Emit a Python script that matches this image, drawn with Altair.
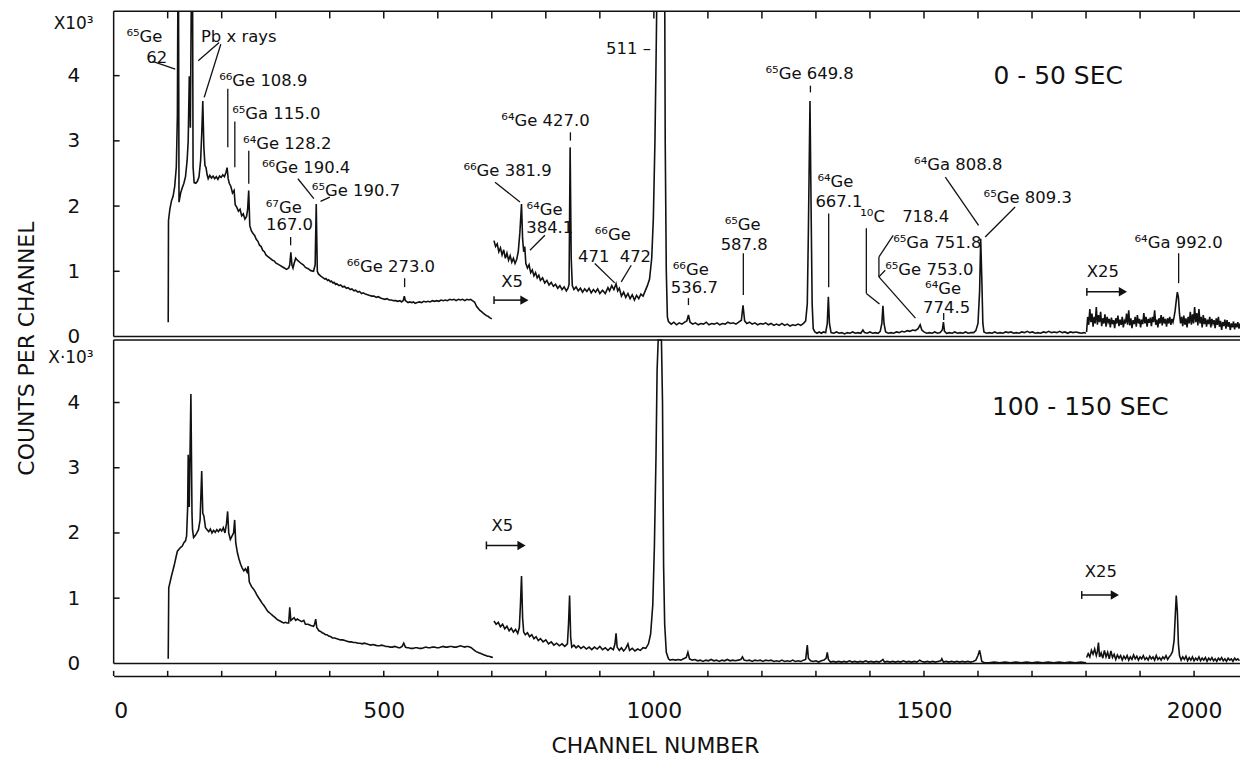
import altair as alt
import pandas as pd

# ---------------- data (counts per channel, units of 10^3 as drawn) ----------------
TOP_X1 = [(101,0.22),(101.5,1.78),(104,1.95),(107,2.08),(110,2.15),(113,2.30),(116,2.60),(118,3.40),(119,5.5),(120,5.5),
(121,2.06),(124,2.20),(127,2.28),(130,2.35),(133,2.45),(136,2.70),(138,3.00),(140,3.99),(141,3.90),(142,3.20),(144,5.5),
(146,5.5),(147,2.60),(149,2.36),(152,2.35),(155,2.38),(158,2.45),(161,2.70),(163,3.10),(165,3.61),(167,2.90),(169,2.62),
(171,2.59),(173,2.48),(175,2.42),(178,2.47),(181,2.43),(184,2.46),(187,2.42),(190,2.45),(193,2.41),(196,2.46),(199,2.44),
(202,2.48),(205,2.45),(208,2.52),(210,2.59),(212,2.42),(214,2.35),(217,2.30),(220,2.20),(223,2.24),(225,2.02),(228,1.98),
(231,1.92),(234,1.95),(237,1.85),(240,1.88),(243,1.80),(246,1.84),(248,1.95),(250,2.24),(252,1.70),(255,1.62),(258,1.58),
(261,1.55),(264,1.49),(267,1.46),(270,1.40),(273,1.38),(276,1.32),(279,1.30),(282,1.25),(285,1.23),(288,1.21),(291,1.19),
(294,1.17),(297,1.16),(300,1.13),(304,1.11),(308,1.09),(312,1.07),(316,1.05),(320,1.03),(324,1.05),(326,1.10),(328,1.29),
(330,1.10),(332,1.05),(334,1.12),(337,1.20),(340,1.17),(343,1.15),(347,1.12),(351,1.10),(355,1.06),(360,1.04),(365,1.01),
(370,1.00),(373,1.10),(375,2.03),(377,1.00),(379,0.96),(383,0.93),(386,0.91),(388,0.90),(391,0.88),(393,0.89),(396,0.86),
(398,0.87),(401,0.84),(403,0.85),(406,0.82),(408,0.83),(411,0.80),(413,0.81),(417,0.78),(420,0.79),(424,0.76),(427,0.77),
(431,0.74),(434,0.75),(438,0.72),(441,0.73),(445,0.70),(448,0.71),(452,0.68),(455,0.69),(459,0.66),(462,0.67),(466,0.65),
(470,0.64),(474,0.63),(478,0.62),(482,0.62),(486,0.60),(490,0.61),(494,0.59),(498,0.58),(502,0.57),(506,0.58),(510,0.56),
(514,0.56),(518,0.55),(522,0.55),(526,0.54),(530,0.55),(533,0.53),(536,0.55),(538,0.62),(540,0.55),(542,0.54),(545,0.52),
(548,0.53),(552,0.52),(555,0.53),(558,0.51),(562,0.52),(566,0.53),(570,0.52),(574,0.54),(578,0.53),(582,0.54),(586,0.53),
(590,0.55),(594,0.54),(598,0.55),(602,0.54),(606,0.56),(610,0.55),(614,0.56),(618,0.55),(622,0.57),(626,0.56),(630,0.57),
(634,0.55),(638,0.57),(642,0.56),(646,0.57),(650,0.55),(654,0.57),(658,0.56),(661,0.57),(664,0.55),(668,0.53),(672,0.46),
(675,0.43),(678,0.40),(681,0.38),(684,0.36),(687,0.34),(690,0.32),(693,0.31),(696,0.29),(700,0.27)]

TOP_X5 = [(704,1.47),(707,1.38),(710,1.42),(713,1.30),(716,1.36),(719,1.25),(722,1.33),(725,1.20),(728,1.28),(731,1.17),
(734,1.24),(737,1.14),(740,1.20),(743,1.12),(746,1.18),(749,1.30),(752,1.60),(755,2.03),(757,1.50),(759,1.30),(761,1.38),
(763,1.12),(766,1.05),(769,1.10),(772,0.98),(775,1.02),(778,0.93),(781,0.98),(784,0.90),(787,0.94),(790,0.86),(794,0.90),
(798,0.82),(802,0.86),(806,0.79),(810,0.83),(814,0.77),(818,0.80),(822,0.74),(826,0.78),(830,0.72),(834,0.76),(838,0.70),
(841,0.74),(843,0.80),(845,2.90),(847,1.20),(849,0.78),(852,0.72),(856,0.76),(860,0.70),(864,0.74),(868,0.68),(872,0.73),
(876,0.69),(880,0.74),(884,0.67),(888,0.72),(892,0.68),(896,0.73),(900,0.66),(905,0.71),(910,0.66),(915,0.75),(918,0.70),
(922,0.78),(926,0.72),(930,0.81),(933,0.70),(936,0.74),(940,0.62),(944,0.68),(948,0.60),(952,0.66),(956,0.58),(960,0.64),
(964,0.56),(968,0.63),(972,0.58),(976,0.65),(980,0.62),(984,0.70),(988,0.78),(992,0.88),(996,1.20),(999,1.80),(1002,3.00),
(1004,4.20),(1006,5.5),(1013,6.0),(1020,5.5),(1021,3.00),(1023,1.00),(1025,0.30),(1027,0.23),(1032,0.19),(1037,0.22),
(1042,0.18),(1047,0.21),(1052,0.19),(1057,0.22),(1061,0.24),(1064,0.33),(1067,0.22),(1072,0.19),(1077,0.21),(1082,0.18),
(1087,0.20),(1092,0.19),(1097,0.22),(1102,0.18),(1107,0.20),(1112,0.19),(1117,0.21),(1122,0.18),(1127,0.20),(1132,0.19),
(1137,0.22),(1142,0.20),(1147,0.21),(1152,0.19),(1157,0.22),(1162,0.25),(1165,0.48),(1168,0.24),(1172,0.20),(1177,0.22),
(1182,0.19),(1187,0.21),(1192,0.18),(1197,0.20),(1202,0.19),(1207,0.21),(1212,0.18),(1217,0.20),(1222,0.17),(1227,0.19),
(1232,0.17),(1237,0.20),(1242,0.17),(1247,0.19),(1252,0.16),(1257,0.18),(1262,0.17),(1267,0.19),(1272,0.17),(1277,0.20),
(1281,0.24),(1284,0.50),(1286,1.60),(1289,3.61),(1291,2.00),(1293,0.50),(1295,0.12),(1298,0.07),(1302,0.05),(1306,0.07),
(1310,0.05),(1314,0.07),(1318,0.06),(1321,0.20),(1323,0.61),(1325,0.20),(1328,0.06),(1333,0.05),(1338,0.07),(1343,0.05),
(1348,0.06),(1353,0.04),(1358,0.06),(1363,0.05),(1368,0.07),(1373,0.05),(1378,0.06),(1383,0.05),(1387,0.10),(1390,0.06),
(1395,0.05),(1400,0.07),(1405,0.05),(1410,0.06),(1415,0.05),(1419,0.08),(1422,0.20),(1424,0.47),(1426,0.20),(1429,0.07),
(1434,0.05),(1439,0.06),(1444,0.05),(1449,0.07),(1454,0.06),(1459,0.08),(1464,0.07),(1469,0.09),(1474,0.08),(1479,0.10),
(1484,0.09),(1489,0.12),(1493,0.18),(1496,0.10),(1500,0.07),(1505,0.05),(1510,0.06),(1515,0.05),(1520,0.07),(1525,0.05),
(1530,0.06),(1534,0.10),(1536,0.22),(1538,0.08),(1542,0.05),(1547,0.06),(1552,0.05),(1557,0.07),(1562,0.05),(1567,0.06),
(1572,0.05),(1577,0.07),(1582,0.05),(1587,0.06),(1592,0.06),(1596,0.09),(1600,0.20),(1603,0.70),(1605,1.50),(1607,0.90),
(1609,0.20),(1611,0.07),(1616,0.05),(1621,0.06),(1626,0.05),(1631,0.07),(1636,0.05),(1641,0.06),(1646,0.05),(1651,0.07),
(1656,0.06),(1661,0.07),(1666,0.05),(1671,0.06),(1676,0.05),(1681,0.07),(1686,0.06),(1691,0.08),(1696,0.06),(1701,0.07),
(1706,0.05),(1711,0.06),(1716,0.05),(1721,0.07),(1726,0.06),(1731,0.08),(1736,0.06),(1741,0.07),(1746,0.06),(1751,0.08),
(1756,0.06),(1761,0.07),(1766,0.05),(1771,0.07),(1776,0.06),(1781,0.07),(1786,0.06),(1791,0.05),(1796,0.06),(1800,0.05)]

TOP_X25 = [(1801,0.07),(1803,0.30),(1805,0.18),(1807,0.42),(1809,0.22),(1811,0.35),(1813,0.15),(1815,0.30),(1817,0.20),
(1819,0.45),(1821,0.18),(1823,0.33),(1825,0.22),(1827,0.38),(1829,0.16),(1831,0.28),(1833,0.20),(1835,0.34),(1837,0.15),
(1839,0.30),(1841,0.22),(1843,0.27),(1845,0.14),(1847,0.29),(1849,0.19),(1851,0.25),(1853,0.13),(1855,0.28),(1857,0.20),
(1859,0.32),(1861,0.16),(1863,0.26),(1865,0.18),(1867,0.30),(1869,0.14),(1871,0.24),(1873,0.20),(1875,0.35),(1877,0.18),
(1879,0.40),(1881,0.17),(1883,0.28),(1885,0.13),(1887,0.25),(1889,0.19),(1891,0.30),(1893,0.15),(1895,0.33),(1897,0.20),
(1899,0.27),(1901,0.14),(1903,0.26),(1905,0.19),(1907,0.36),(1909,0.20),(1911,0.30),(1913,0.15),(1915,0.27),(1917,0.21),
(1919,0.29),(1921,0.16),(1923,0.30),(1925,0.22),(1927,0.40),(1929,0.18),(1931,0.26),(1933,0.14),(1935,0.28),(1937,0.20),
(1939,0.33),(1941,0.17),(1943,0.30),(1945,0.20),(1947,0.27),(1949,0.15),(1951,0.28),(1953,0.20),(1955,0.30),(1957,0.18),
(1959,0.27),(1961,0.22),(1963,0.30),(1965,0.40),(1967,0.55),(1969,0.68),(1971,0.60),(1973,0.35),(1975,0.20),(1977,0.30),
(1979,0.16),(1981,0.32),(1983,0.18),(1985,0.28),(1987,0.14),(1989,0.30),(1991,0.20),(1993,0.38),(1995,0.18),(1997,0.34),
(1999,0.20),(2001,0.45),(2003,0.22),(2005,0.36),(2007,0.17),(2009,0.42),(2011,0.20),(2013,0.30),(2015,0.14),(2017,0.33),
(2019,0.19),(2021,0.28),(2023,0.15),(2025,0.26),(2027,0.19),(2029,0.30),(2031,0.14),(2033,0.27),(2035,0.20),(2037,0.25),
(2039,0.13),(2041,0.28),(2043,0.18),(2045,0.30),(2047,0.15),(2049,0.24),(2051,0.10),(2053,0.22),(2055,0.16),(2057,0.26),
(2059,0.12),(2061,0.25),(2063,0.15),(2065,0.22),(2067,0.10),(2069,0.20),(2071,0.14),(2073,0.23),(2075,0.11),(2077,0.20),
(2079,0.14),(2081,0.22),(2083,0.12),(2085,0.20)]

BOT_X1 = [(101,0.07),(102,1.16),(107,1.34),(112,1.50),(116,1.65),(118,1.72),(121,1.75),(124,1.78),(127,1.80),(130,1.85),
(133,1.88),(135,1.95),(137,2.40),(138,3.20),(139,2.90),(140,2.40),(141,3.00),(143,4.13),(145,2.30),(146,2.05),(148,1.93),
(151,1.96),(154,2.00),(157,2.05),(160,2.20),(163,2.95),(165,2.30),(167,2.26),(170,2.08),(173,2.05),(176,2.02),(179,2.06),
(182,2.00),(185,2.04),(188,2.01),(191,2.05),(194,2.02),(197,2.06),(200,2.03),(203,2.08),(206,2.00),(209,2.15),(211,2.33),
(213,2.00),(216,1.90),(219,1.95),(222,2.00),(224,2.20),(226,1.85),(229,1.70),(232,1.60),(235,1.52),(238,1.46),(241,1.42),
(244,1.45),(247,1.40),(249,1.49),(251,1.25),(255,1.18),(258,1.15),(262,1.10),(265,1.05),(268,1.01),(272,0.96),(275,0.92),
(278,0.89),(282,0.84),(285,0.80),(288,0.78),(292,0.75),(295,0.73),(298,0.71),(302,0.68),(305,0.66),(308,0.65),(312,0.63),
(315,0.62),(318,0.63),(321,0.62),(324,0.62),(326,0.86),(328,0.66),(331,0.68),(334,0.70),(337,0.66),(340,0.68),(344,0.66),
(348,0.64),(352,0.66),(355,0.60),(360,0.60),(365,0.58),(370,0.57),(372,0.60),(374,0.68),(376,0.55),(380,0.50),(383,0.49),
(386,0.47),(389,0.46),(392,0.44),(395,0.44),(398,0.42),(402,0.41),(405,0.39),(409,0.39),(412,0.38),(416,0.37),(420,0.36),
(424,0.36),(428,0.35),(432,0.34),(436,0.33),(440,0.33),(444,0.32),(448,0.32),(452,0.31),(456,0.31),(460,0.30),(464,0.31),
(468,0.30),(472,0.29),(476,0.28),(480,0.29),(484,0.28),(488,0.27),(492,0.27),(496,0.28),(500,0.27),(504,0.26),(508,0.26),
(512,0.25),(516,0.25),(520,0.26),(524,0.25),(527,0.24),(530,0.24),(534,0.26),(537,0.31),(540,0.25),(543,0.24),(546,0.24),
(550,0.23),(554,0.23),(558,0.24),(562,0.24),(566,0.23),(570,0.23),(574,0.24),(578,0.25),(582,0.24),(586,0.24),(590,0.25),
(594,0.25),(598,0.24),(602,0.24),(606,0.25),(610,0.26),(614,0.25),(618,0.25),(622,0.26),(626,0.26),(630,0.25),(634,0.25),
(638,0.26),(642,0.27),(646,0.26),(650,0.25),(653,0.26),(656,0.26),(659,0.25),(662,0.24),(665,0.22),(668,0.20),(671,0.18),
(674,0.17),(677,0.16),(680,0.15),(683,0.14),(686,0.13),(689,0.12),(692,0.11),(695,0.11),(698,0.10),(702,0.09)]

BOT_X5 = [(704,0.65),(708,0.60),(712,0.63),(716,0.56),(720,0.60),(724,0.53),(728,0.57),(732,0.50),(736,0.54),(740,0.48),
(744,0.52),(748,0.46),(751,0.55),(753,0.90),(755,1.34),(757,0.70),(759,0.48),(762,0.44),(766,0.47),(770,0.41),(774,0.44),
(778,0.38),(782,0.41),(786,0.35),(790,0.38),(795,0.33),(800,0.36),(805,0.30),(810,0.33),(815,0.28),(820,0.31),(825,0.27),
(830,0.30),(835,0.26),(840,0.30),(842,0.60),(844,1.04),(846,0.40),(848,0.25),(852,0.28),(856,0.24),(860,0.27),(865,0.23),
(870,0.26),(875,0.22),(880,0.25),(885,0.21),(890,0.25),(895,0.22),(900,0.26),(905,0.21),(910,0.24),(915,0.20),(920,0.24),
(925,0.21),(928,0.30),(930,0.46),(932,0.25),(936,0.20),(940,0.24),(944,0.19),(948,0.23),(952,0.30),(955,0.20),(960,0.23),
(965,0.19),(970,0.22),(975,0.20),(980,0.24),(985,0.23),(990,0.30),(994,0.45),(998,0.90),(1001,1.80),(1004,3.20),
(1006,4.50),(1008,6.0),(1014,6.0),(1016,4.00),(1018,1.50),(1020,0.60),(1023,0.17),(1027,0.07),(1030,0.05),(1035,0.06),
(1040,0.05),(1045,0.06),(1050,0.05),(1055,0.07),(1060,0.09),(1063,0.17),(1066,0.07),(1071,0.05),(1076,0.06),(1081,0.04),
(1086,0.05),(1091,0.03),(1096,0.05),(1101,0.04),(1106,0.06),(1111,0.04),(1116,0.05),(1121,0.03),(1126,0.05),(1131,0.04),
(1136,0.06),(1141,0.04),(1146,0.05),(1151,0.04),(1156,0.05),(1161,0.06),(1164,0.10),(1167,0.05),(1172,0.04),(1177,0.05),
(1182,0.03),(1187,0.05),(1192,0.04),(1197,0.05),(1202,0.03),(1207,0.05),(1212,0.04),(1217,0.05),(1222,0.03),(1227,0.04),
(1232,0.03),(1237,0.05),(1242,0.03),(1247,0.04),(1252,0.03),(1257,0.05),(1262,0.03),(1267,0.04),(1272,0.03),(1277,0.05),
(1281,0.06),(1284,0.28),(1286,0.08),(1290,0.04),(1295,0.03),(1300,0.04),(1305,0.02),(1310,0.04),(1315,0.05),(1319,0.08),
(1321,0.17),(1323,0.06),(1327,0.02),(1332,0.03),(1337,0.02),(1342,0.03),(1347,0.02),(1352,0.03),(1357,0.02),(1362,0.04),
(1367,0.02),(1372,0.03),(1377,0.02),(1382,0.03),(1387,0.02),(1392,0.04),(1397,0.02),(1402,0.03),(1407,0.02),(1412,0.03),
(1417,0.02),(1421,0.04),(1424,0.06),(1427,0.02),(1432,0.03),(1437,0.02),(1442,0.03),(1447,0.02),(1452,0.03),(1457,0.02),
(1462,0.04),(1467,0.02),(1472,0.03),(1477,0.02),(1482,0.03),(1487,0.02),(1492,0.05),(1496,0.03),(1501,0.02),(1506,0.03),
(1511,0.02),(1516,0.03),(1521,0.02),(1526,0.03),(1531,0.04),(1533,0.07),(1536,0.02),(1541,0.03),(1546,0.02),(1551,0.03),
(1556,0.02),(1561,0.03),(1566,0.02),(1571,0.03),(1576,0.02),(1581,0.03),(1586,0.02),(1591,0.03),(1596,0.05),(1600,0.12),
(1603,0.20),(1605,0.12),(1607,0.03),(1612,0.01),(1620,0.01),(1630,0.02),(1640,0.01),(1650,0.02),(1660,0.01),(1670,0.02),
(1680,0.01),(1690,0.02),(1700,0.01),(1710,0.02),(1720,0.01),(1730,0.02),(1740,0.01),(1750,0.02),(1760,0.01),(1770,0.02),
(1780,0.01),(1790,0.02),(1800,0.01)]

BOT_X25 = [(1801,0.09),(1804,0.15),(1807,0.10),(1810,0.20),(1813,0.14),(1816,0.22),(1819,0.12),(1821,0.18),(1823,0.32),
(1825,0.10),(1828,0.16),(1831,0.08),(1834,0.20),(1837,0.10),(1840,0.17),(1843,0.07),(1846,0.19),(1849,0.09),(1852,0.14),
(1855,0.06),(1858,0.13),(1861,0.08),(1864,0.12),(1867,0.05),(1870,0.11),(1873,0.07),(1876,0.12),(1879,0.05),(1882,0.10),
(1885,0.06),(1888,0.13),(1891,0.07),(1894,0.11),(1897,0.05),(1900,0.10),(1903,0.07),(1906,0.12),(1909,0.06),(1912,0.09),
(1915,0.05),(1918,0.11),(1921,0.07),(1924,0.10),(1927,0.05),(1930,0.12),(1933,0.06),(1936,0.09),(1939,0.05),(1942,0.10),
(1945,0.07),(1948,0.12),(1951,0.06),(1954,0.10),(1957,0.13),(1960,0.18),(1963,0.35),(1965,0.70),(1967,1.04),(1969,0.80),
(1971,0.30),(1973,0.12),(1976,0.05),(1979,0.10),(1982,0.06),(1985,0.11),(1988,0.04),(1991,0.09),(1994,0.05),(1997,0.10),
(2000,0.04),(2003,0.08),(2006,0.05),(2009,0.10),(2012,0.04),(2015,0.08),(2018,0.05),(2021,0.09),(2024,0.03),(2027,0.08),
(2030,0.05),(2033,0.09),(2036,0.04),(2039,0.07),(2042,0.03),(2045,0.08),(2048,0.05),(2051,0.09),(2054,0.04),(2057,0.07),
(2060,0.03),(2063,0.08),(2066,0.05),(2069,0.07),(2072,0.03),(2075,0.08),(2078,0.05),(2081,0.07),(2084,0.04)]

# peak labels of the 0-50 s spectrum: (text, channel, counts at the text baseline)
TOP_LABELS = [("⁶⁵Ge", 23.6, 4.52), ("62", 60.5, 4.20), ("Pb  x  rays", 161.5, 4.52),
              ("⁶⁶Ge 108.9", 195.3, 3.846), ("⁶⁵Ga 115.0", 219.3, 3.341), ("⁶⁴Ge 128.2", 239.6, 2.882),
              ("⁶⁶Ge 190.4", 274.6, 2.50), ("⁶⁵Ge 190.7", 366.9, 2.148), ("⁶⁷Ge", 281.5, 1.90),
              ("167.0", 282.0, 1.628), ("⁶⁶Ge 273.0", 431.5, 0.991), ("⁶⁴Ge 427.0", 717.6, 3.234),
              ("⁶⁶Ge 381.9", 647.5, 2.454), ("⁶⁴Ge", 764.3, 1.87), ("384.1", 763.7, 1.583),
              ("⁶⁶Ge", 890.6, 1.476), ("471", 859.7, 1.139), ("472", 936.7, 1.139), ("X5", 717.6, 0.757),
              ("⁶⁶Ge", 1035.0, 0.94), ("536.7", 1031.4, 0.665), ("⁶⁵Ge", 1131.0, 1.64), ("587.8", 1123.6, 1.323),
              ("⁶⁵Ge 649.8", 1206.6, 3.953), ("⁶⁴Ge", 1302.7, 2.296), ("667.1", 1299.0, 1.98),
              ("¹⁰C", 1382.0, 1.755), ("718.4", 1459.6, 1.755), ("⁶⁵Ga 751.8", 1443.0, 1.353),
              ("⁶⁵Ge 753.0", 1428.2, 0.94), ("⁶⁴Ge", 1502.0, 0.645), ("774.5", 1498.3, 0.359),
              ("⁶⁴Ga 808.8", 1481.7, 2.546), ("⁶⁵Ge 809.3", 1610.4, 2.041), ("⁶⁴Ga 992.0", 1889.7, 1.353),
              ("X25", 1801.5, 0.91)]
BOT_LABELS = [("X5", 699.6, 2.027), ("X25", 1797.8, 1.32)]
TITLE_TOP = ("0 - 50 SEC", 1628.8, 3.872)
TITLE_BOT = ("100 - 150 SEC", 1625.7, 3.812)
LABEL_511 = ("511 –", 994.6, 4.335)
UNIT_LABELS = [("X10³", -37.0, 4.72, "top"), ("X·10³", -37.0, 4.60, "bot")]

# leader lines of the 0-50 s labels: (ch, counts, ch2, counts2)
TOP_LEADERS = [(72.2,4.217,114,4.101),(195.3,4.508,156.5,4.228),(198.4,4.483,167.6,3.667),(211.3,3.80,211.3,2.902),
               (224.3,3.295,224.3,2.596),(250.1,2.85,250.1,2.343),(341.1,2.419,370.6,2.113),(400.1,2.138,383,2.072),
               (327.6,1.526,327.6,1.399),(538.6,0.894,538.6,0.757),(845.5,3.131,845.5,3.004),(706,2.367,752.1,2.061),
               (798.3,1.552,770.6,1.323),(890.6,1.119,927.5,0.823),(958.1,1.093,939.6,0.838),(1064,0.589,1064,0.482),
               (1165.6,1.277,1165.6,0.635),(1289.8,3.846,1289.8,3.743),(1323.6,1.888,1323.6,0.757),
               (1393.3,1.659,1393.3,0.661),(1393.3,0.661,1417.7,0.497),(1443,1.552,1416.6,1.22),
               (1416.6,1.22,1416.6,0.914),(1416.6,0.914,1484.2,0.283),(1428.2,1.017,1416.6,0.914),
               (1536.5,0.359,1536.5,0.252),(1539.5,2.443,1601.1,1.705),(1668.7,1.985,1613.3,1.526),
               (1971.4,1.277,1971.4,0.818)]
# scale-change arrows: (panel, ch start, ch end, counts)
ARROWS = [("top", 704.1, 767.4, 0.558), ("top", 1801.5, 1875.3, 0.685),
          ("bot", 690.0, 762.0, 1.809), ("bot", 1792.0, 1860.3, 1.049)]

# ---------------- geometry ----------------
OFF = 5.012      # offset of the upper (0-50 s) panel on the shared counts axis
BOT_TOP = 4.959  # top edge of the lower panel
XMAX = 2085
YMIN, YMAX = -0.194, 10.0
W, H = 1130, 667
FONT = "DejaVu Sans"
INK = "#111111"

xs = alt.Scale(domain=[0, XMAX], nice=False, zero=False)
ys = alt.Scale(domain=[YMIN, YMAX], nice=False, zero=False)

X_AXIS = alt.Axis(
    values=[0, 500, 1000, 1500, 2000], format="d", ticks=False, grid=False,
    domain=True, domainColor=INK, domainWidth=1.5,
    labelFont=FONT, labelFontSize=22, labelColor=INK, labelPadding=25,
    title="CHANNEL NUMBER", titleFont=FONT, titleFontSize=22, titleFontWeight="normal",
    titleColor=INK, titleX=543, titleY=70, titleBaseline="middle", titleAlign="center")
Y_AXIS = alt.Axis(
    values=[0, 1, 2, 3, 4] + [OFF + k for k in range(5)], ticks=False, grid=False, domain=False,
    labelExpr=f"datum.value < 4.5 ? format(datum.value, 'd') : format(datum.value - {OFF}, '.0f')",
    labelFont=FONT, labelFontSize=20, labelColor=INK, labelPadding=34,
    title="COUNTS PER CHANNEL", titleFont=FONT, titleFontSize=22, titleFontWeight="normal",
    titleColor=INK, titleX=-87, titleY=338, titleAngle=-90, titleBaseline="middle", titleAlign="center")


def XE():
    return alt.X("ch:Q", scale=xs, axis=X_AXIS)


def YE():
    return alt.Y("y:Q", scale=ys, axis=Y_AXIS)


def ycalc(field):
    return f"datum.panel == 'top' ? datum.{field} + {OFF} : min(datum.{field}, {BOT_TOP})"


rows = []
for panel, seg, pts in [("top", "t1", TOP_X1), ("top", "t5", TOP_X5), ("top", "t25", TOP_X25),
                        ("bot", "b1", BOT_X1), ("bot", "b5", BOT_X5), ("bot", "b25", BOT_X25)]:
    for c, v in pts:
        rows.append({"ch": c, "v": v, "panel": panel, "seg": seg})
spec_df = pd.DataFrame(rows)

spectrum = alt.Chart(spec_df).transform_calculate(y=ycalc("v")).mark_line(
    color=INK, strokeWidth=1.6, clip=True
).encode(x=XE(), y=YE(), detail="seg:N")

# frames of both panels
frame_rows = [
    {"panel": "top", "ch": 0, "ch2": XMAX, "v": 10.0 - OFF, "v2": 10.0 - OFF},
    {"panel": "top", "ch": 0, "ch2": XMAX, "v": 0, "v2": 0},
    {"panel": "top", "ch": 0, "ch2": 0, "v": 0, "v2": 10.0 - OFF},
    {"panel": "bot", "ch": 0, "ch2": XMAX, "v": BOT_TOP, "v2": BOT_TOP},
    {"panel": "bot", "ch": 0, "ch2": XMAX, "v": 0, "v2": 0},
    {"panel": "bot", "ch": 0, "ch2": 0, "v": 0, "v2": BOT_TOP},
]
for c in range(100, 2001, 100):
    frame_rows.append({"panel": "top", "ch": c, "ch2": c, "v": 10.0 - OFF, "v2": 10.0 - OFF - 0.11})
for c in range(0, 2001, 100):
    frame_rows.append({"panel": "bot", "ch": c, "ch2": c, "v": YMIN, "v2": YMIN + 0.08})
for p in ("top", "bot"):
    for k in range(1, 5):
        frame_rows.append({"panel": p, "ch": 0, "ch2": 11, "v": k, "v2": k})
frame_df = pd.DataFrame(frame_rows)


def rule_layer(df, width):
    return alt.Chart(df).transform_calculate(y=ycalc("v"), y2=ycalc("v2")).mark_rule(
        color=INK, strokeWidth=width
    ).encode(x=XE(), x2="ch2:Q", y=YE(), y2="y2:Q")


frames = rule_layer(frame_df, 1.5)

lead_df = pd.DataFrame([{"panel": "top", "ch": a, "v": b, "ch2": c, "v2": d} for a, b, c, d in TOP_LEADERS])
leaders = rule_layer(lead_df, 1.3)

arrow_rows, head_rows = [], []
for p, c0, c1, v in ARROWS:
    arrow_rows.append({"panel": p, "ch": c0, "ch2": c1 - 6, "v": v, "v2": v})
    arrow_rows.append({"panel": p, "ch": c0, "ch2": c0, "v": v - 0.06, "v2": v + 0.06})
    head_rows.append({"panel": p, "ch": c1 - 7, "v": v})
arrows = rule_layer(pd.DataFrame(arrow_rows), 1.5)
heads = alt.Chart(pd.DataFrame(head_rows)).transform_calculate(y=ycalc("v")).mark_point(
    shape="triangle-right", filled=True, color=INK, size=90, opacity=1
).encode(x=XE(), y=YE())

lab_df = pd.DataFrame([{"panel": "top", "text": t, "ch": c, "v": v} for t, c, v in TOP_LABELS] +
                      [{"panel": "bot", "text": t, "ch": c, "v": v} for t, c, v in BOT_LABELS])


def text_layer(df, size, align="left"):
    return alt.Chart(df).transform_calculate(y=ycalc("v")).mark_text(
        font=FONT, fontSize=size, align=align, baseline="alphabetic", color=INK
    ).encode(x=XE(), y=YE(), text="text:N")


labels = text_layer(lab_df, 16.5)
titles = text_layer(pd.DataFrame([
    {"panel": "top", "text": TITLE_TOP[0], "ch": TITLE_TOP[1], "v": TITLE_TOP[2]},
    {"panel": "bot", "text": TITLE_BOT[0], "ch": TITLE_BOT[1], "v": TITLE_BOT[2]},
]), 25)
l511 = text_layer(pd.DataFrame([{"panel": "top", "text": LABEL_511[0], "ch": LABEL_511[1], "v": LABEL_511[2]}]),
                  16.5, align="right")
units = text_layer(pd.DataFrame([{"panel": p, "text": t, "ch": c, "v": v} for t, c, v, p in UNIT_LABELS]),
                   17, align="right")

chart = alt.layer(spectrum, frames, leaders, arrows, heads, labels, titles, l511, units).properties(
    width=W, height=H,
    padding={"left": 106, "top": 2, "right": 0, "bottom": 80},
    autosize=alt.AutoSizeParams(type="none"),
    background="white",
).configure_view(strokeWidth=0)

chart.save("out.html", embed_options={"renderer": "svg", "actions": False})
